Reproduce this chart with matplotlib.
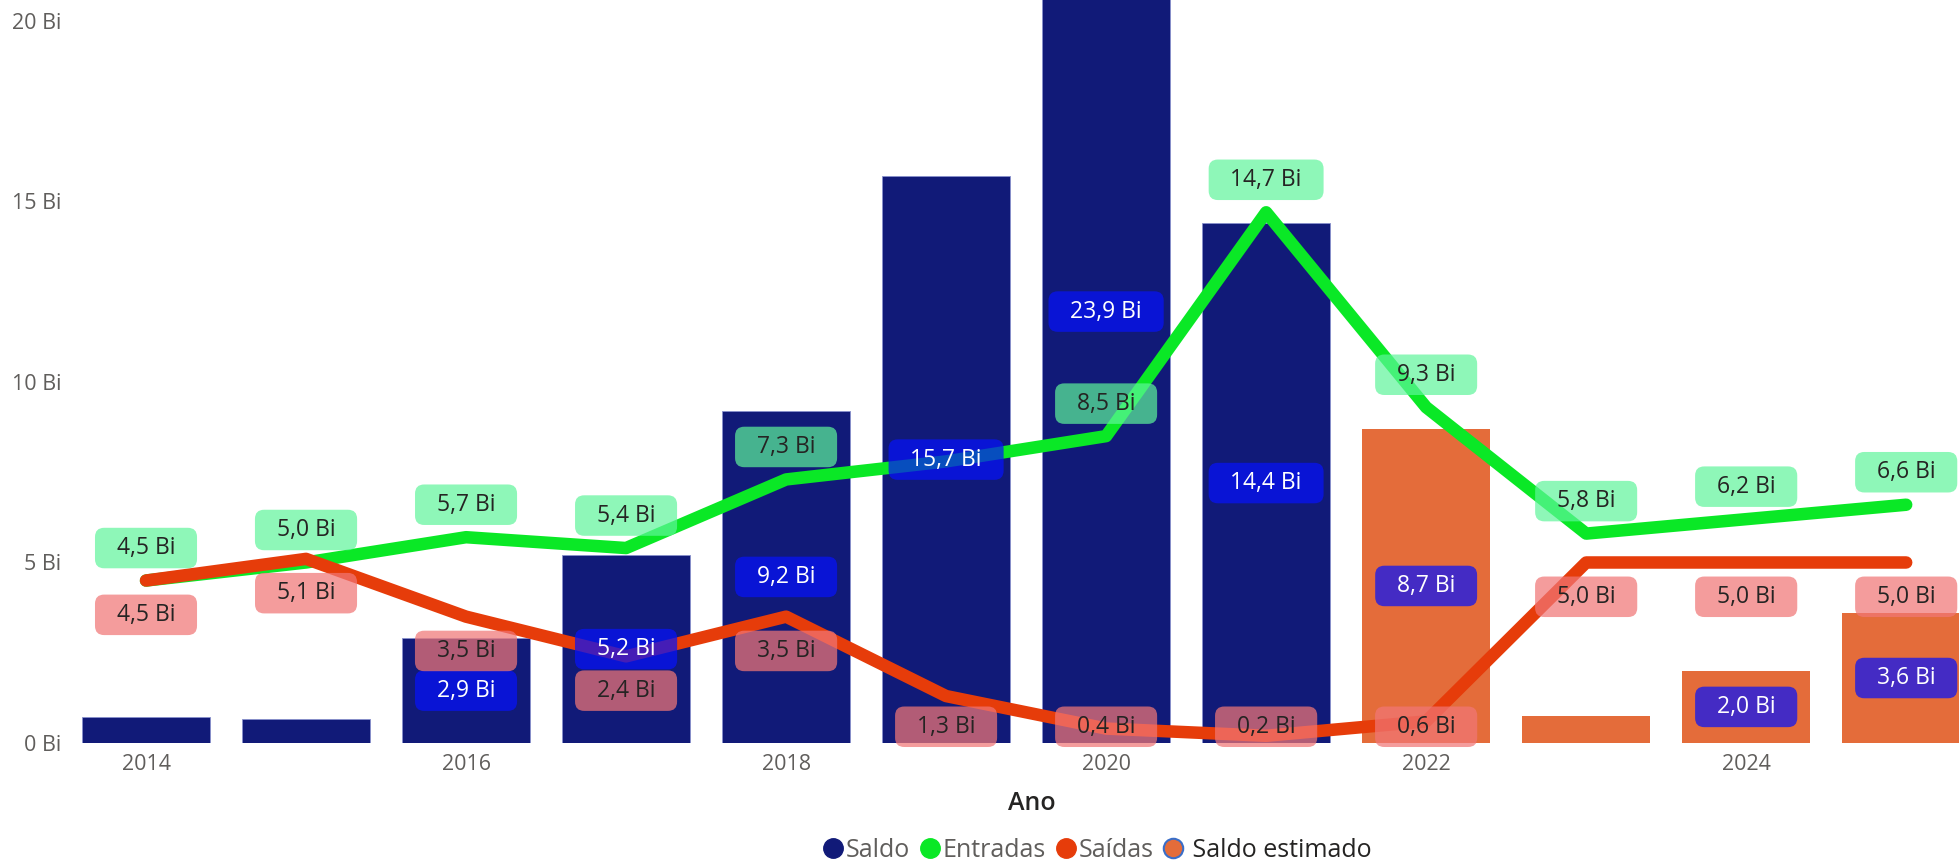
import numpy as np
import matplotlib
matplotlib.use("Agg")
import matplotlib.pyplot as plt
from matplotlib.lines import Line2D
from matplotlib.patches import BoxStyle

plt.rcParams['font.family'] = ['Open Sans', 'DejaVu Sans']

# anos e séries (valores em bilhões)
anos = np.arange(2014, 2026)
anos_real = np.arange(2014, 2022)
anos_est = np.arange(2022, 2026)
saldo = [0.73, 0.66, 2.9, 5.2, 9.2, 15.7, 23.9, 14.4]
saldo_estimado = [8.7, 0.76, 2.0, 3.6]
entradas = [4.5, 5.0, 5.7, 5.4, 7.3, 7.8, 8.5, 14.7, 9.3, 5.8, 6.2, 6.6]
saidas = [4.5, 5.1, 3.5, 2.4, 3.5, 1.3, 0.4, 0.2, 0.6, 5.0, 5.0, 5.0]

# rótulos que o Power BI esconde por sobreposição
mostra_saldo = [False, False, True, True, True, True, True, True]
mostra_est = [True, False, True, True]
mostra_entradas = [True, True, True, True, True, False, True, True, True, True, True, True]

cor_saldo = '#111A78'
cor_est = '#E46C3A'
cor_entradas = '#0AE826'
cor_saidas = '#E63C0A'
cinza = '#605E5C'
escuro = '#252423'


def fmt(v):
    return f"{v:.1f}".replace('.', ',') + " Bi"


_round = BoxStyle.Round(pad=0, rounding_size=0.4)


def caixa_larga(x0, y0, width, height, mutation_size):
    # caixa arredondada com mais folga na horizontal do que na vertical
    px = 0.95 * mutation_size
    py = 0.36 * mutation_size
    return _round(x0 - px, y0 - py, width + 2 * px, height + 2 * py, mutation_size)


fig = plt.figure(figsize=(19.59, 8.63), dpi=100)
ax = fig.add_axes([74 / 1959, 1 - 743 / 863, 1 - 74 / 1959, 743 / 863])

ax.bar(anos_real, saldo, width=0.8, color=cor_saldo, edgecolor='#8890CC', linewidth=0.6, zorder=2)
ax.bar(anos_est, saldo_estimado, width=0.8, color=cor_est, zorder=2)

ax.plot(anos, entradas, color=cor_entradas, lw=9, solid_capstyle='round', solid_joinstyle='round', zorder=3)
ax.plot(anos, saidas, color=cor_saidas, lw=9, solid_capstyle='round', solid_joinstyle='round', zorder=3)

fs = 16.5


def rotulo(x, y, v, cor_txt, cor_caixa, alpha):
    ax.text(x, y, fmt(v), ha='center', va='center', color=cor_txt, fontsize=fs, zorder=5,
            bbox=dict(boxstyle=caixa_larga, fc=cor_caixa, ec='none', alpha=alpha))


for x, v, m in zip(anos_real, saldo, mostra_saldo):
    if m:
        rotulo(x, v / 2, v, 'white', '#0712FA', 0.72)
for x, v, m in zip(anos_est, saldo_estimado, mostra_est):
    if m:
        rotulo(x, v / 2, v, 'white', '#0712FA', 0.72)

for x, v, m in zip(anos, entradas, mostra_entradas):
    if m:
        rotulo(x, v + 0.9, v, escuro, '#5EF59A', 0.7)

for x, v in zip(anos, saidas):
    rotulo(x, max(v - 0.95, 0.45), v, escuro, '#F17676', 0.72)

ax.set_xlim(2013.55, 2025.33)
ax.set_ylim(0, 20.58)
ax.set_yticks([0, 5, 10, 15, 20])
ax.set_yticklabels([f"{t} Bi" for t in [0, 5, 10, 15, 20]])
ax.set_xticks(anos[::2])
ax.set_xticklabels([str(a) for a in anos[::2]])
ax.tick_params(length=0, labelsize=15.5, labelcolor=cinza)
ax.tick_params(axis='y', pad=9)
ax.tick_params(axis='x', pad=8)
for s in ax.spines.values():
    s.set_visible(False)

fig.text(1032 / 1959, 1 - 803 / 863, "Ano", ha='center', va='center', fontsize=18,
         fontweight='semibold', color=escuro)

itens = [
    Line2D([], [], ls='none', marker='o', ms=14, mfc=cor_saldo, mec=cor_saldo),
    Line2D([], [], ls='none', marker='o', ms=14, mfc=cor_entradas, mec=cor_entradas),
    Line2D([], [], ls='none', marker='o', ms=14, mfc=cor_saidas, mec=cor_saidas),
    Line2D([], [], ls='none', marker='o', ms=14, mfc=cor_est, mec='#3A6EC8', mew=1.5),
]
leg = fig.legend(itens, ['Saldo', 'Entradas', 'Saídas', ' Saldo estimado'], loc='center',
                 bbox_to_anchor=(1098 / 1959, 1 - 850 / 863), ncol=4, frameon=False,
                 fontsize=18, handlelength=0.7, handletextpad=0.15, columnspacing=0.45,
                 borderpad=0, borderaxespad=0)
for t in leg.get_texts():
    t.set_color(cinza)
leg.get_texts()[3].set_color(escuro)

fig.savefig('out.png', dpi=100)
